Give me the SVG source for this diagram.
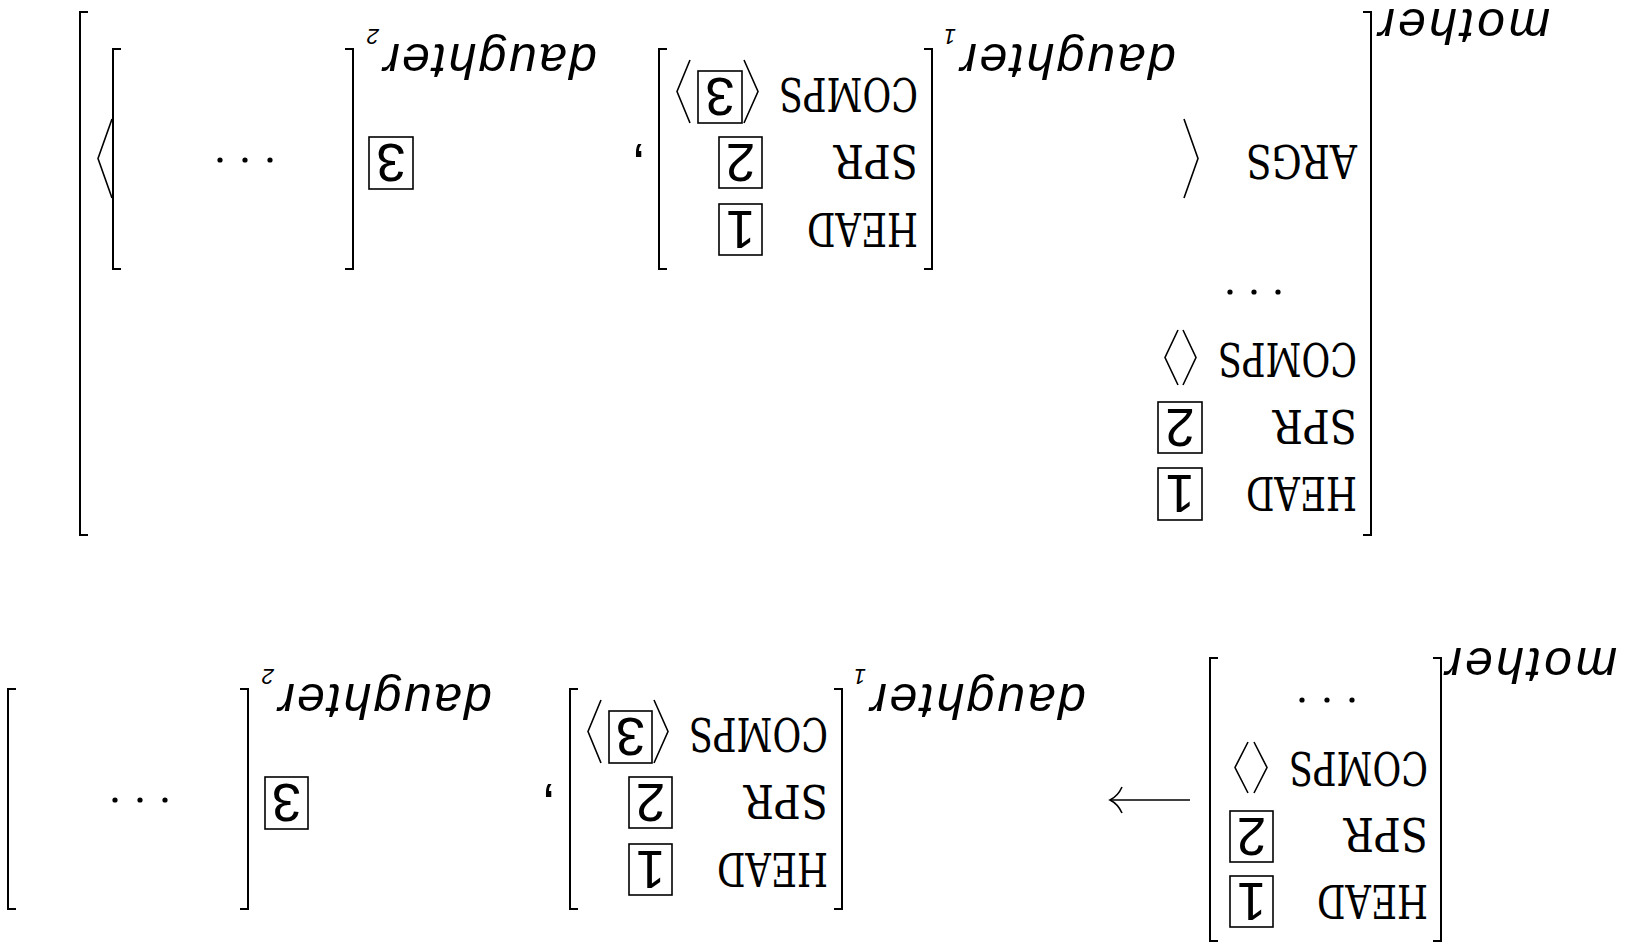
<svg xmlns="http://www.w3.org/2000/svg" width="1627" height="950" viewBox="0 0 1627 950">
<style>
.br{fill:none;stroke:#000;stroke-width:2}
.ang{fill:none;stroke:#000;stroke-width:1.6;stroke-linejoin:miter}
.box{fill:none;stroke:#000;stroke-width:1.6}
.tt{font-family:"DejaVu Serif Condensed","DejaVu Serif","Liberation Mono",serif;font-size:46px;fill:#000}
.num{font-family:"Liberation Sans",Arial,sans-serif;font-size:53px;fill:#000;text-anchor:middle}
.lab{font-family:"Liberation Sans",Arial,sans-serif;font-style:italic;font-size:50px;fill:#000}
.sub{font-family:"Liberation Sans",Arial,sans-serif;font-style:italic;font-size:22px;fill:#000}
.cm{font-family:"Liberation Sans",Arial,sans-serif;font-size:56px;fill:#000}
.dot{fill:#000}
</style>
<rect width="1627" height="950" fill="#fff"/>
<g transform="rotate(180 813.5 475)">
  <!-- TOP: mother with ARGS -->
  <g id="top-mother">
    <path class="br" d="M264 415 H256 V938 H264"/>
    <path class="br" d="M1539 415 H1547 V938 H1539"/>
    <text class="lab" x="77" y="941" textLength="172">mother</text>
    <text class="tt" x="270" y="473" textLength="111" lengthAdjust="spacingAndGlyphs">HEAD</text>
    <rect class="box" x="425" y="430" width="44" height="52"/>
    <text class="num" x="447" y="475">1</text>
    <text class="tt" x="270" y="540" textLength="84" lengthAdjust="spacingAndGlyphs">SPR</text>
    <rect class="box" x="425" y="497" width="44" height="51"/>
    <text class="num" x="447" y="541">2</text>
    <text class="tt" x="270" y="607" textLength="139" lengthAdjust="spacingAndGlyphs">COMPS</text>
    <path class="ang" d="M444 565 L431 592.5 L444 620"/>
    <path class="ang" d="M449 565 L462 592.5 L449 620"/>
    <circle class="dot" cx="349" cy="658" r="2.6"/>
    <circle class="dot" cx="373" cy="658" r="2.6"/>
    <circle class="dot" cx="397" cy="658" r="2.6"/>
    <text class="tt" x="270" y="805" textLength="111" lengthAdjust="spacingAndGlyphs">ARGS</text>
    <path class="ang" d="M443 752 L429 791.5 L443 831"/>
    <path class="ang" d="M1515 752 L1529 791.5 L1515 831"/>
    <text class="cm" x="980.5" y="799">,</text>
  </g>
  <g id="top-daughter1">
    <path class="br" d="M703 681 H695 V901 H703"/>
    <path class="br" d="M960 681 H968 V901 H960"/>
    <text class="lab" x="451" y="906" textLength="216">daughter</text>
    <text class="sub" x="671" y="921">1</text>
    <text class="tt" x="709" y="737" textLength="111" lengthAdjust="spacingAndGlyphs">HEAD</text>
    <rect class="box" x="865" y="695" width="43" height="51"/>
    <text class="num" x="886.5" y="739.5">1</text>
    <text class="tt" x="709" y="805" textLength="84" lengthAdjust="spacingAndGlyphs">SPR</text>
    <rect class="box" x="865" y="762" width="43" height="51"/>
    <text class="num" x="886.5" y="806.5">2</text>
    <text class="tt" x="709" y="872" textLength="139" lengthAdjust="spacingAndGlyphs">COMPS</text>
    <path class="ang" d="M883 827 L869 858.5 L883 890"/>
    <rect class="box" x="885" y="827" width="44" height="52"/>
    <text class="num" x="907" y="872">3</text>
    <path class="ang" d="M937 827 L950 858.5 L937 890"/>
  </g>
  <g id="top-daughter2">
    <rect class="box" x="1214" y="761" width="44" height="52"/>
    <text class="num" x="1236" y="806">3</text>
    <path class="br" d="M1282 681 H1274 V901 H1282"/>
    <path class="br" d="M1506 681 H1514 V901 H1506"/>
    <text class="lab" x="1030" y="906" textLength="214">daughter</text>
    <text class="sub" x="1248" y="921">2</text>
    <circle class="dot" cx="1357" cy="790" r="2.6"/>
    <circle class="dot" cx="1382" cy="790" r="2.6"/>
    <circle class="dot" cx="1407" cy="790" r="2.6"/>
  </g>

  <!-- BOTTOM: rule -->
  <g id="bottom-mother">
    <path class="br" d="M194 9 H186 V292 H194"/>
    <path class="br" d="M409 9 H417 V292 H409"/>
    <text class="lab" x="10" y="302" textLength="172">mother</text>
    <text class="tt" x="199" y="65" textLength="111" lengthAdjust="spacingAndGlyphs">HEAD</text>
    <rect class="box" x="354" y="23" width="43" height="51"/>
    <text class="num" x="375.5" y="67.5">1</text>
    <text class="tt" x="199" y="132" textLength="84" lengthAdjust="spacingAndGlyphs">SPR</text>
    <rect class="box" x="354" y="88" width="43" height="51"/>
    <text class="num" x="375.5" y="132.5">2</text>
    <text class="tt" x="199" y="198" textLength="139" lengthAdjust="spacingAndGlyphs">COMPS</text>
    <path class="ang" d="M373 157 L360 182.5 L373 208"/>
    <path class="ang" d="M379 157 L392 182.5 L379 208"/>
    <circle class="dot" cx="275" cy="250" r="2.6"/>
    <circle class="dot" cx="300" cy="250" r="2.6"/>
    <circle class="dot" cx="325" cy="250" r="2.6"/>
  </g>
  <g id="connectors">
    <path class="ang" d="M437 150 H516"/>
    <path class="ang" d="M505 137 Q509 146 517 150 Q509 154 505 163"/>
  </g>
  <g id="bottom-daughter1">
    <path class="br" d="M793 41 H785 V261 H793"/>
    <path class="br" d="M1049 41 H1057 V261 H1049"/>
    <text class="lab" x="541" y="266" textLength="216">daughter</text>
    <text class="sub" x="761" y="281">1</text>
    <text class="tt" x="799" y="97" textLength="111" lengthAdjust="spacingAndGlyphs">HEAD</text>
    <rect class="box" x="955" y="55" width="43" height="51"/>
    <text class="num" x="976.5" y="99.5">1</text>
    <text class="tt" x="799" y="165" textLength="84" lengthAdjust="spacingAndGlyphs">SPR</text>
    <rect class="box" x="955" y="122" width="43" height="51"/>
    <text class="num" x="976.5" y="166.5">2</text>
    <text class="tt" x="799" y="232" textLength="139" lengthAdjust="spacingAndGlyphs">COMPS</text>
    <path class="ang" d="M973 187 L959 218.5 L973 250"/>
    <rect class="box" x="975" y="187" width="43" height="52"/>
    <text class="num" x="996.5" y="232">3</text>
    <path class="ang" d="M1026 187 L1039 218.5 L1026 250"/>
    <text class="cm" x="1070.5" y="159">,</text>
  </g>
  <g id="bottom-daughter2">
    <rect class="box" x="1319" y="121" width="43" height="52"/>
    <text class="num" x="1340.5" y="166">3</text>
    <path class="br" d="M1387 41 H1379 V261 H1387"/>
    <path class="br" d="M1611 41 H1619 V261 H1611"/>
    <text class="lab" x="1135" y="266" textLength="214">daughter</text>
    <text class="sub" x="1353" y="281">2</text>
    <circle class="dot" cx="1462" cy="150" r="2.6"/>
    <circle class="dot" cx="1487" cy="150" r="2.6"/>
    <circle class="dot" cx="1512" cy="150" r="2.6"/>
  </g>
</g>
</svg>
